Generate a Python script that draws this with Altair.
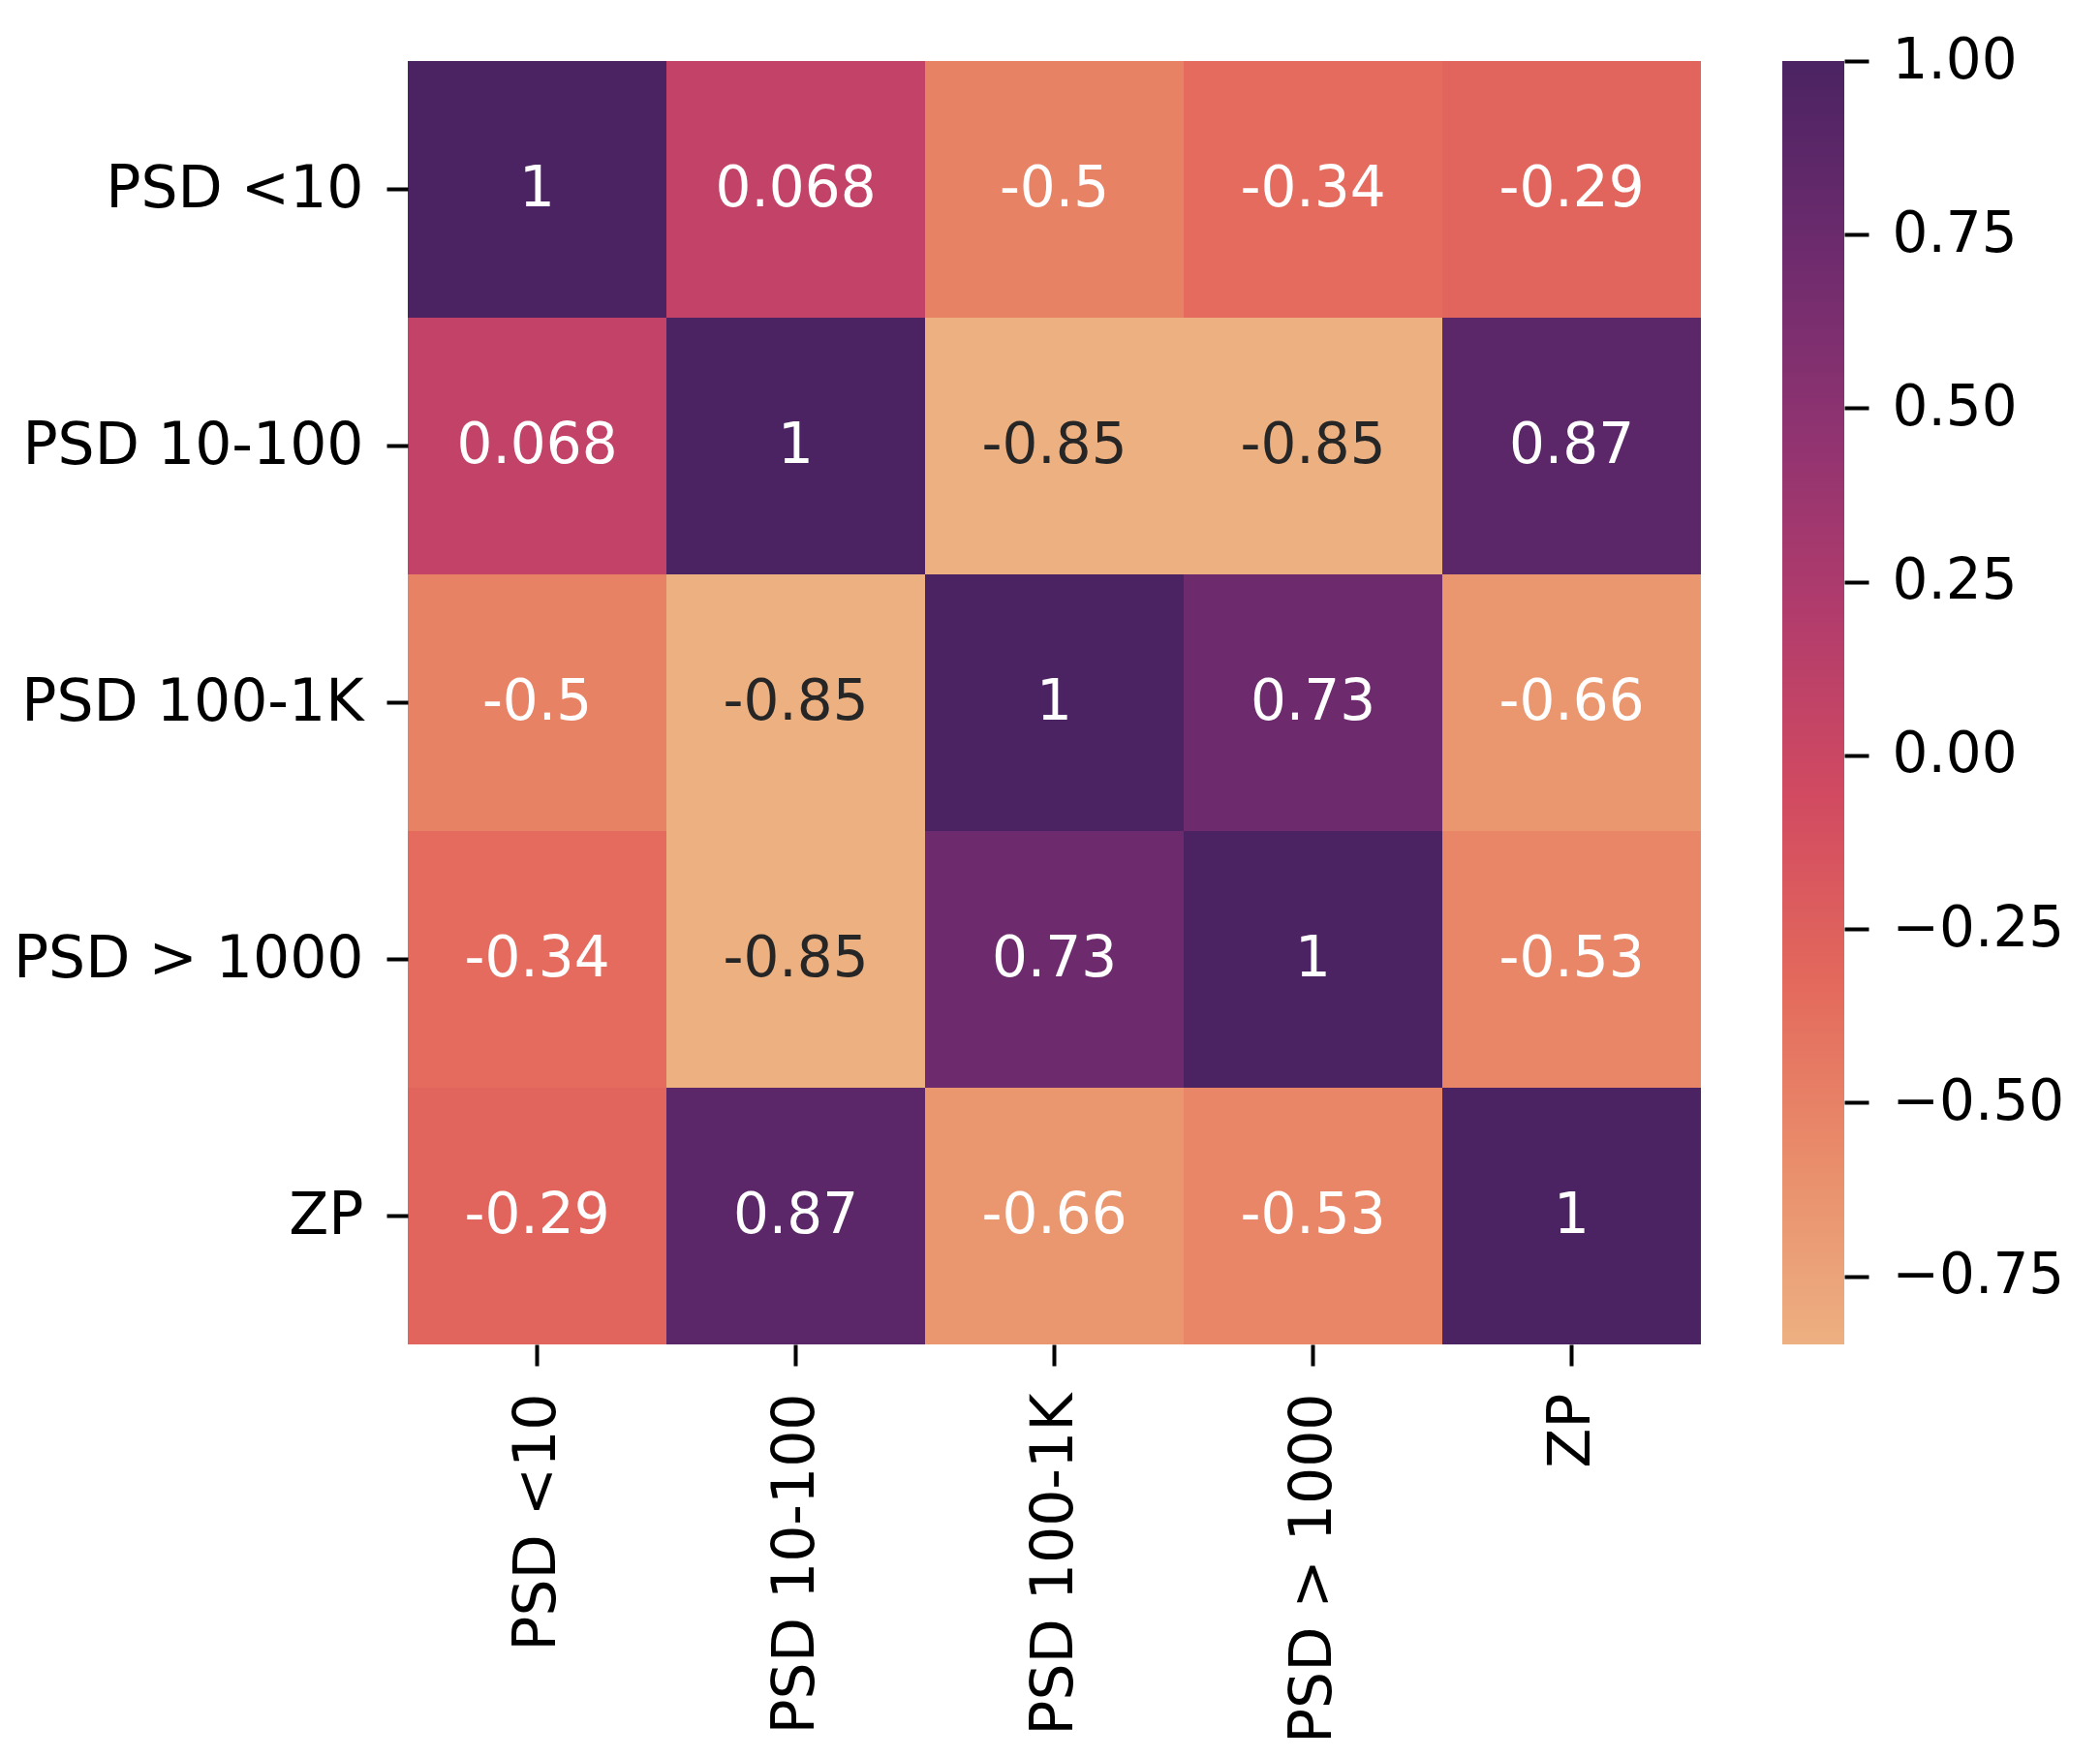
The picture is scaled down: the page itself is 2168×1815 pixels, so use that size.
import altair as alt
import pandas as pd

labels = ["PSD <10", "PSD 10-100", "PSD 100-1K", "PSD > 1000", "ZP"]
row_psd10 = [1.0, 0.068, -0.5, -0.34, -0.29]
row_psd10_100 = [0.068, 1.0, -0.85, -0.85, 0.87]
row_psd100_1k = [-0.5, -0.85, 1.0, 0.73, -0.66]
row_psd1000 = [-0.34, -0.85, 0.73, 1.0, -0.53]
row_zp = [-0.29, 0.87, -0.66, -0.53, 1.0]
matrix = [row_psd10, row_psd10_100, row_psd100_1k, row_psd1000, row_zp]

vmin, vmax = -0.848, 1.0
flare = ["#edb081", "#e98d6b", "#e3685c", "#d14a61", "#b13c6c", "#8f3371", "#6c2b6d", "#4b2362"]
n = len(flare)
stops_dom = [vmin + (vmax - vmin) * i / (n - 1) for i in range(n)]

recs = []
for i, r in enumerate(labels):
    for j, c in enumerate(labels):
        v = matrix[i][j]
        recs.append({"row": r, "col": c, "v": v, "txt": format(v, ".2g")})
df = pd.DataFrame(recs)

FONT = "DejaVu Sans"
FS = 58
AFS = 60

base = alt.Chart(df).encode(
    x=alt.X("col:N", sort=labels, title=None,
            scale=alt.Scale(paddingInner=0, paddingOuter=0),
            axis=alt.Axis(labelAngle=-90, tickSize=22, tickWidth=4, tickColor="black",
                          labelPadding=28, domain=False, labelFontSize=AFS, labelFont=FONT,
                          labelColor="black", labelLimit=1000)),
    y=alt.Y("row:N", sort=labels, title=None,
            scale=alt.Scale(paddingInner=0, paddingOuter=0),
            axis=alt.Axis(tickSize=22, tickWidth=4, tickColor="black", labelPadding=24,
                          domain=False, labelFontSize=AFS, labelFont=FONT,
                          labelColor="black", labelLimit=1000)),
)

cells = base.mark_rect().encode(
    color=alt.Color("v:Q", scale=alt.Scale(domain=stops_dom, range=flare), legend=None)
)
texts = base.mark_text(font=FONT, fontSize=FS, baseline="middle", align="center").encode(
    text="txt:N",
    color=alt.condition(alt.datum.v < -0.75, alt.value("#262626"), alt.value("white")),
)
heat = (cells + texts).properties(width=1335, height=1325)

cb_df = pd.DataFrame({"lo": [vmin], "hi": [vmax]})
grad = {
    "gradient": "linear",
    "x1": 0, "x2": 0, "y1": 1, "y2": 0,
    "stops": [{"offset": i / (n - 1), "color": flare[i]} for i in range(n)],
}
colorbar = alt.Chart(cb_df).mark_rect(color=grad).encode(
    x=alt.value(0), x2=alt.value(64),
    y=alt.Y("lo:Q", title=None,
            scale=alt.Scale(domain=[vmin, vmax], nice=False, zero=False),
            axis=alt.Axis(orient="right", values=[-0.75, -0.5, -0.25, 0, 0.25, 0.5, 0.75, 1.0],
                          format=".2f", tickSize=25, tickWidth=4, tickColor="black",
                          labelPadding=24, domain=False, grid=False, labelFontSize=FS,
                          labelFont=FONT, labelColor="black")),
    y2="hi:Q",
).properties(width=64, height=1325)

chart = alt.hconcat(heat, colorbar, spacing=84).properties(
    padding={"left": 5, "top": 26, "right": 5, "bottom": 5}
).configure_view(stroke=None)

chart.save("out.html", embed_options={"renderer": "svg", "actions": False})
